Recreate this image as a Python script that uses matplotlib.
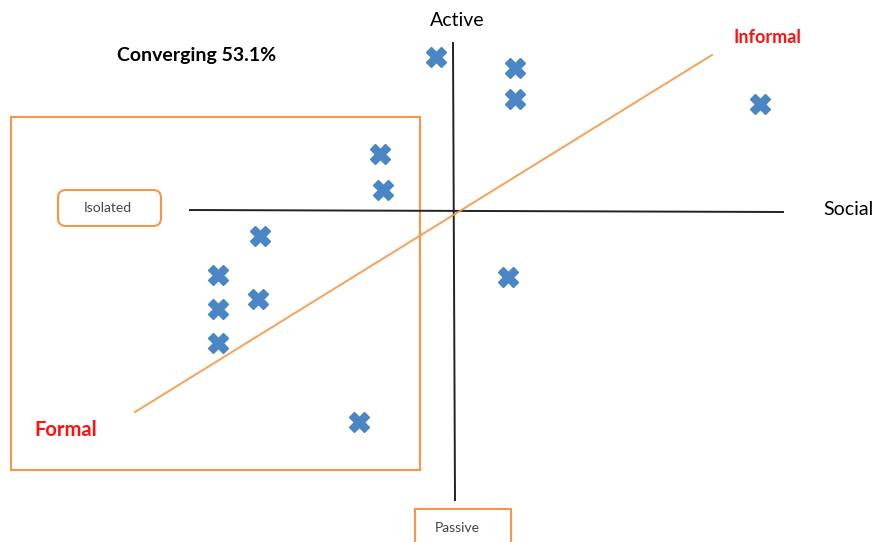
import matplotlib.pyplot as plt
from matplotlib.patches import Rectangle, FancyBboxPatch

plt.rcParams['font.family'] = ['Lato', 'DejaVu Sans']

# points: social (x) vs active (y), origin where the two axes cross
social = [-1.9, 6.0, 6.0, 30.5, -7.5, -7.2, -19.5, -23.7, -19.7, -23.7, -23.7, 5.3, -9.6]
active = [15.4, 14.3, 11.2, 10.7, 5.7, 2.1, -2.5, -6.4, -8.8, -9.8, -13.2, -6.6, -21.1]

# formal -> informal diagonal
trend_x = [-32.0, 25.7]
trend_y = [-20.1, 15.6]

title = "Converging 53.1%"

orange = "#F79646"
blue = "#4A86C5"

fig = plt.figure(figsize=(8.74, 5.42), dpi=100)
ax = fig.add_axes([0, 0, 1, 1])
ax.set_xlim(-45.5, 41.9)
ax.set_ylim(-33.1, 21.1)
ax.axis("off")

# quadrant axes
ax.plot([-26.5, 32.8], [0.1, -0.1], color="#222222", lw=1.4)
ax.plot([-0.2, 0.0], [16.8, -28.9], color="#222222", lw=1.4)

# formal / isolated region
ax.add_patch(Rectangle((-44.4, -25.9), 40.9, 35.3, fill=False, ec=orange, lw=1.5))
ax.add_patch(FancyBboxPatch((-39.7, -1.5), 10.3, 3.6, boxstyle="round,pad=0,rounding_size=0.8",
                            fill=False, ec=orange, lw=1.5))
ax.add_patch(Rectangle((-4.0, -34.0), 9.6, 4.2, fill=False, ec=orange, lw=1.5, clip_on=False))

ax.plot(trend_x, trend_y, color=orange, lw=1.4, alpha=0.9)

ax.plot(social, active, linestyle="none", marker="X", ms=15, color=blue, mec=blue)

ax.text(-25.8, 15.5, title, fontsize=14, fontweight="bold", ha="center", va="center")
ax.text(0.2, 19.1, "Active", fontsize=14, ha="center", va="center")
ax.text(39.3, 0.1, "Social", fontsize=14, ha="center", va="center")
ax.text(31.2, 17.3, "Informal", fontsize=13, fontweight="bold", color="#FF1010", ha="center", va="center")
ax.text(-38.9, -21.9, "Formal", fontsize=14.5, fontweight="bold", color="#FF1010", ha="center", va="center")
ax.text(-34.7, 0.3, "Isolated", fontsize=10, color="#444444", ha="center", va="center")
ax.text(0.2, -31.7, "Passive", fontsize=10, color="#444444", ha="center", va="center")

fig.savefig("out.png", dpi=100)
